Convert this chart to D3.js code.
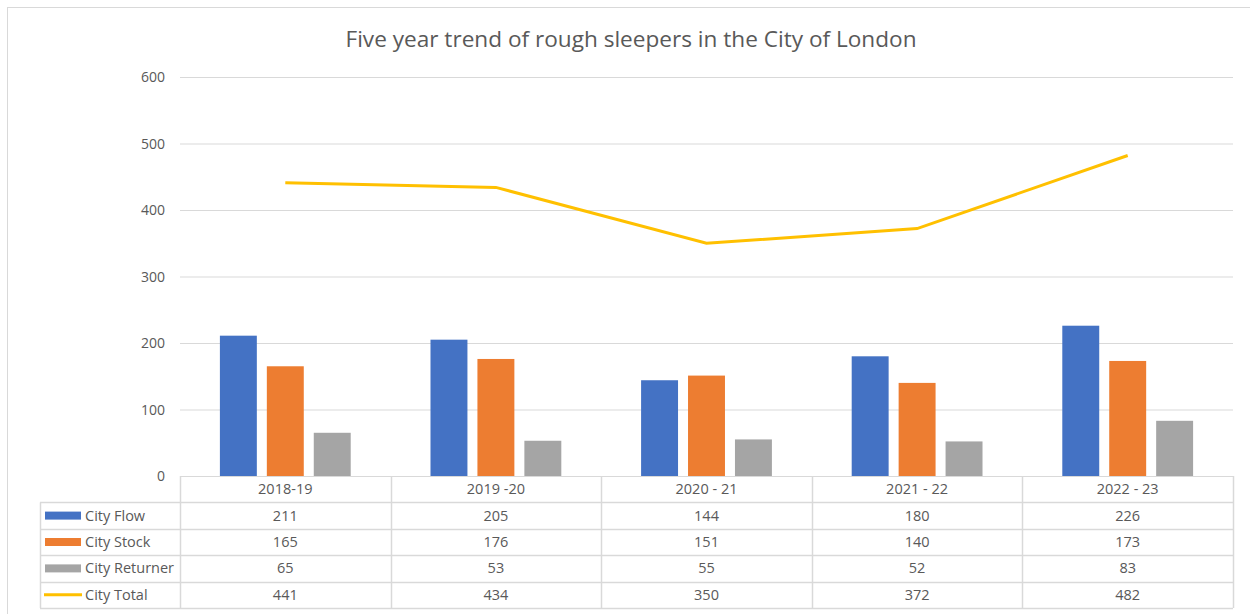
<!DOCTYPE html>
<html>
<head>
<meta charset="utf-8">
<script src="https://cdn.jsdelivr.net/npm/d3@7"></script>
<style>
  body { margin: 0; background: #fff; }
  text { font-family: "Open Sans", "Liberation Sans", sans-serif; fill: #595959; }
</style>
</head>
<body>
<div id="chart"></div>
<script>
// Data
const years = ["2018-19", "2019 -20", "2020 - 21", "2021 - 22", "2022 - 23"];
const cityFlow = [211, 205, 144, 180, 226];
const cityStock = [165, 176, 151, 140, 173];
const cityReturner = [65, 53, 55, 52, 83];
const cityTotal = [441, 434, 350, 372, 482];
const yTicks = [0, 100, 200, 300, 400, 500, 600];

const barSeries = [
    { name: "City Flow", values: cityFlow, color: "#4472C4" },
    { name: "City Stock", values: cityStock, color: "#ED7D31" },
    { name: "City Returner", values: cityReturner, color: "#A5A5A5" }
];
const lineSeries = { name: "City Total", values: cityTotal, color: "#FFC000" };

const W = 1250, H = 614;
const plot = { left: 180, right: 1233, top: 77, bottom: 476 };
const tableLeft = 40;
const rowH = 26.4;

const svg = d3.select("#chart").append("svg")
    .attr("width", W)
    .attr("height", H);

// outer chart border
svg.append("rect")
    .attr("x", 7.5).attr("y", 7.5)
    .attr("width", W).attr("height", H)
    .attr("fill", "none")
    .attr("stroke", "#d9d9d9");

// Title
svg.append("text")
    .attr("x", 631).attr("y", 47)
    .attr("text-anchor", "middle")
    .style("font-size", "22.6px")
    .text("Five year trend of rough sleepers in the City of London");

// Scales
const x = d3.scaleBand()
    .domain(years)
    .range([plot.left, plot.right]);

const y = d3.scaleLinear()
    .domain([0, 600])
    .range([plot.bottom, plot.top]);

const inner = d3.scaleBand()
    .domain(barSeries.map(s => s.name))
    .range([0, x.bandwidth()])
    .paddingInner(0.213)
    .paddingOuter(0.85);

// Gridlines
svg.append("g")
    .selectAll("line")
    .data(yTicks)
    .join("line")
    .attr("x1", plot.left).attr("x2", plot.right)
    .attr("y1", d => y(d) + 0.5).attr("y2", d => y(d) + 0.5)
    .attr("stroke", "#d9d9d9");

// Y axis labels
svg.append("g")
    .selectAll("text")
    .data(yTicks)
    .join("text")
    .attr("x", 165)
    .attr("y", d => y(d) + 5)
    .attr("text-anchor", "end")
    .style("font-size", "14px")
    .text(d => d);

// Bars
barSeries.forEach(s => {
    svg.append("g")
        .selectAll("rect")
        .data(s.values)
        .join("rect")
        .attr("x", (d, i) => x(years[i]) + inner(s.name))
        .attr("width", inner.bandwidth())
        .attr("y", d => y(d))
        .attr("height", d => y(0) - y(d))
        .attr("fill", s.color);
});

// Total line
const line = d3.line()
    .x((d, i) => x(years[i]) + x.bandwidth() / 2)
    .y(d => y(d));

svg.append("path")
    .datum(lineSeries.values)
    .attr("d", line)
    .attr("fill", "none")
    .attr("stroke", lineSeries.color)
    .attr("stroke-width", 3);

// Data table
const rows = [...barSeries, lineSeries];
const tableTop = plot.bottom;
const tableBottom = tableTop + rowH * (rows.length + 1);
const gridColor = "#d9d9d9";
const tbl = svg.append("g");

// horizontal lines: header row spans plot only, others full width
tbl.append("line")
    .attr("x1", plot.left).attr("x2", plot.right)
    .attr("y1", tableTop + 0.5).attr("y2", tableTop + 0.5)
    .attr("stroke", gridColor);
d3.range(1, rows.length + 2).forEach(k => {
    const yy = Math.round(tableTop + k * rowH) + 0.5;
    tbl.append("line")
        .attr("x1", tableLeft).attr("x2", plot.right)
        .attr("y1", yy).attr("y2", yy)
        .attr("stroke", gridColor)
        .attr("stroke-width", 1.5);
});
// vertical lines
tbl.append("line")
    .attr("x1", tableLeft + 0.5).attr("x2", tableLeft + 0.5)
    .attr("y1", tableTop + rowH).attr("y2", tableBottom)
    .attr("stroke", gridColor).attr("stroke-width", 1.5);
years.concat(["end"]).forEach((yr, i) => {
    const xx = Math.round(plot.left + i * x.bandwidth()) + 0.5;
    tbl.append("line")
        .attr("x1", xx).attr("x2", xx)
        .attr("y1", tableTop).attr("y2", tableBottom)
        .attr("stroke", gridColor).attr("stroke-width", 1.5);
});

// header labels
tbl.selectAll(".hdr")
    .data(years)
    .join("text")
    .attr("class", "hdr")
    .attr("x", d => x(d) + x.bandwidth() / 2)
    .attr("y", tableTop + rowH / 2 + 5)
    .attr("text-anchor", "middle")
    .style("font-size", "14.5px")
    .text(d => d);

rows.forEach((s, r) => {
    const cy = tableTop + rowH * (r + 1) + rowH / 2;
    // legend key
    if (s === lineSeries) {
        tbl.append("line")
            .attr("x1", 44).attr("x2", 82)
            .attr("y1", cy).attr("y2", cy)
            .attr("stroke", s.color).attr("stroke-width", 3);
    } else {
        tbl.append("rect")
            .attr("x", 45).attr("y", cy - 4)
            .attr("width", 36).attr("height", 8)
            .attr("fill", s.color);
    }
    tbl.append("text")
        .attr("x", 85).attr("y", cy + 5)
        .style("font-size", "14.5px")
        .text(s.name);
    tbl.selectAll(null)
        .data(s.values)
        .join("text")
        .attr("x", (d, i) => x(years[i]) + x.bandwidth() / 2)
        .attr("y", cy + 5)
        .attr("text-anchor", "middle")
        .style("font-size", "14.5px")
        .text(d => d);
});
</script>
</body>
</html>
